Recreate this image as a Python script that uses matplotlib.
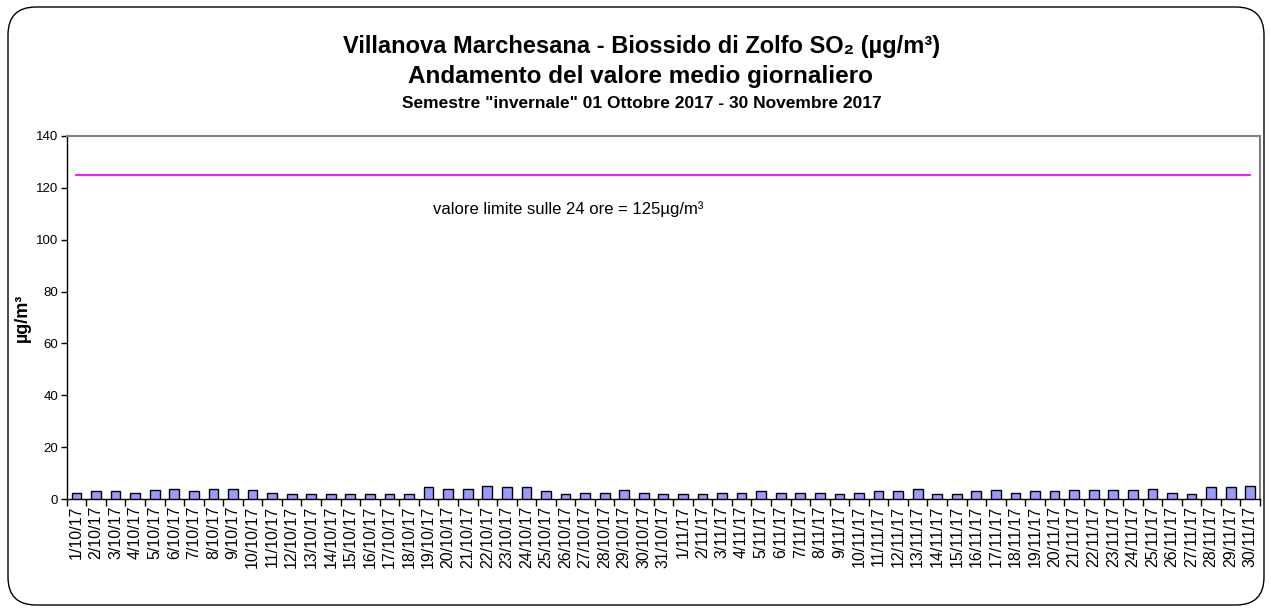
import matplotlib
matplotlib.use("Agg")
import matplotlib.pyplot as plt
from matplotlib.patches import FancyBboxPatch

plt.rcParams['font.family'] = ['Liberation Sans', 'DejaVu Sans']

dates = [f"{d}/10/17" for d in range(1, 32)] + [f"{d}/11/17" for d in range(1, 31)]
values = [2.5, 3, 3, 2.5, 3.5, 4, 3, 4, 4, 3.5, 2.5, 2, 2, 2, 2, 2, 2, 2, 4.5, 4,
          4, 5, 4.5, 4.5, 3, 2, 2.5, 2.5, 3.5, 2.5, 2,
          2, 2, 2.5, 2.5, 3, 2.5, 2.5, 2.5, 2, 2.5, 3, 3, 3.7, 2, 2,
          3, 3.5, 2.5, 3, 3, 3.5, 3.5, 3.5, 3.5, 4, 2.5, 2, 4.5, 4.5, 5]
limit_value = 125
limit_label = "valore limite sulle 24 ore = 125µg/m³"
yticks = [0, 20, 40, 60, 80, 100, 120, 140]

W, H = 1271, 613
fig = plt.figure(figsize=(W / 100, H / 100), dpi=100)
fig.patch.set_facecolor('white')

# rounded frame
frame = FancyBboxPatch((8 / W, 8 / H), (1264 - 8) / W, (606 - 8) / H,
                       boxstyle="round,pad=0,rounding_size=0.022",
                       transform=fig.transFigure, fill=False, edgecolor='black',
                       linewidth=1.0, mutation_aspect=W / H)
fig.patches.append(frame)

left, right, top, bottom = 66.7, 1260, 136, 499
ax = fig.add_axes([left / W, 1 - bottom / H, (right - left) / W, (bottom - top) / H])

x = list(range(len(values)))
ax.bar(x, values, width=0.5, color='#9999FF', edgecolor='black', linewidth=1.0, zorder=3)
ax.plot([x[0], x[-1]], [limit_value, limit_value], color='#FF00FF', linewidth=1.3, zorder=4)

ax.set_xlim(-0.5, len(values) - 0.5)
ax.set_ylim(0, 140)
ax.set_yticks(yticks)
ax.set_yticklabels([str(v) for v in yticks], fontsize=9.5)
ax.set_xticks([i - 0.5 for i in range(len(values) + 1)], minor=False)
ax.set_xticklabels([])
ax.set_xticks(x, minor=True)
ax.set_xticklabels(dates, minor=True, rotation=90, fontsize=11.5)
ax.tick_params(axis='x', which='minor', length=0, pad=5)
ax.tick_params(axis='x', which='major', length=5, direction='out', width=1)
ax.tick_params(axis='y', length=4, direction='out', width=1, pad=2)

for s in ['top', 'right']:
    ax.spines[s].set_color('#808080')
    ax.spines[s].set_linewidth(1.5)
for s in ['left', 'bottom']:
    ax.spines[s].set_color('black')
    ax.spines[s].set_linewidth(1.0)

ax.text(18.2, 112, limit_label, fontsize=12, ha='left', va='center')

fig.text(22 / W, 1 - 318 / H, "µg/m³", rotation=90, ha='center', va='center',
         fontsize=13, fontweight='bold')

fig.text(642 / W, 1 - 46 / H, "Villanova Marchesana - Biossido di Zolfo SO₂ (µg/m³)",
         ha='center', va='center', fontsize=17, fontweight='bold')
fig.text(640 / W, 1 - 76 / H, "Andamento del valore medio giornaliero",
         ha='center', va='center', fontsize=17.5, fontweight='bold')
fig.text(642 / W, 1 - 104 / H, 'Semestre "invernale" 01 Ottobre 2017 - 30 Novembre 2017',
         ha='center', va='center', fontsize=12.5, fontweight='bold')

fig.savefig("out.png", dpi=100)
